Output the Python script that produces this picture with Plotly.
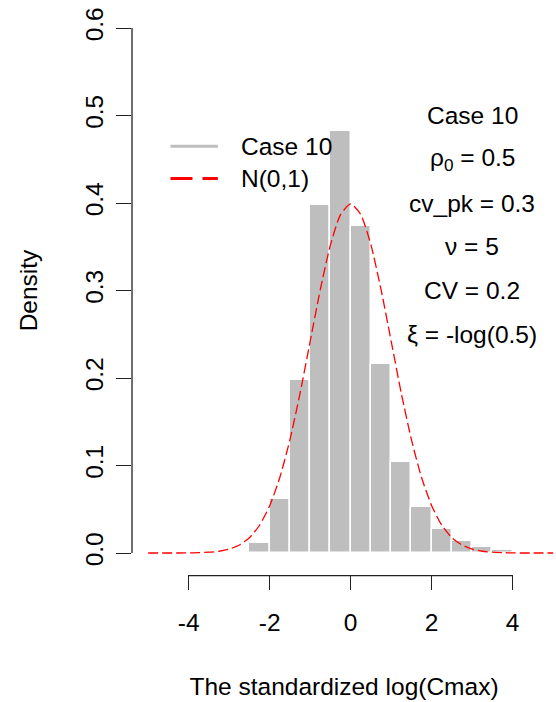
import numpy as np
import plotly.graph_objects as go

# ---- data ----
bin_edges = [-2.5, -2.0, -1.5, -1.0, -0.5, 0.0, 0.5, 1.0, 1.5, 2.0, 2.5, 3.0, 3.5, 4.0, 4.5, 5.0]
density = [0.011, 0.062, 0.198, 0.398, 0.482, 0.374, 0.216, 0.104, 0.053, 0.027, 0.014, 0.0072, 0.0034, 0.0015, 0.0015]

curve_x = [-5.0, -4.75, -4.5, -4.25, -4.0, -3.75, -3.5, -3.25, -3.0, -2.75, -2.5, -2.25, -2.0, -1.75,
           -1.5, -1.25, -1.0, -0.75, -0.5, -0.25, 0.0, 0.25, 0.5, 0.75, 1.0, 1.25, 1.5, 1.75, 2.0,
           2.25, 2.5, 2.75, 3.0, 3.25, 3.5, 3.75, 4.0, 4.25, 4.5, 4.75, 5.0]
curve_y = [0.0000, 0.0000, 0.0000, 0.0000, 0.0001, 0.0004, 0.0009, 0.0020, 0.0044, 0.0091, 0.0175,
           0.0317, 0.0540, 0.0863, 0.1295, 0.1826, 0.2420, 0.3011, 0.3521, 0.3867, 0.3989, 0.3867,
           0.3521, 0.3011, 0.2420, 0.1826, 0.1295, 0.0863, 0.0540, 0.0317, 0.0175, 0.0091, 0.0044,
           0.0020, 0.0009, 0.0004, 0.0001, 0.0000, 0.0000, 0.0000, 0.0000]

x_ticks = [-4, -2, 0, 2, 4]
y_ticks = [0.0, 0.1, 0.2, 0.3, 0.4, 0.5, 0.6]
x_title = "The standardized log(Cmax)"
y_title = "Density"
legend_labels = ["Case 10", "N(0,1)"]
info_lines = ["Case 10", "ρ<sub>0</sub> = 0.5", "cv_pk = 0.3", "ν = 5", "CV = 0.2", "ξ = -log(0.5)"]
info_y = [0.50, 0.45, 0.40, 0.35, 0.30, 0.25]
info_x = 3.0

# ---- figure ----
FONT = "Liberation Sans, Arial, sans-serif"
FS = 24.5
edges = np.array(bin_edges)
mids = (edges[:-1] + edges[1:]) / 2
widths = np.diff(edges)

fig = go.Figure()
fig.add_trace(go.Bar(x=mids, y=density, width=widths,
                     marker=dict(color="#BEBEBE", line=dict(color="white", width=1.5)),
                     showlegend=False, hoverinfo="x+y"))
fig.add_trace(go.Scatter(x=curve_x, y=curve_y, mode="lines",
                         line=dict(color="#FF0000", width=1.3, dash="10px,4px", shape="spline", smoothing=0.6),
                         showlegend=False))

shapes = []
# axis lines spanning tick range (R style)
shapes.append(dict(type="line", xref="paper", yref="y", x0=0, x1=0, y0=y_ticks[0], y1=y_ticks[-1],
                   line=dict(color="#222222", width=1.3)))
shapes.append(dict(type="line", xref="x", yref="paper", x0=x_ticks[0], x1=x_ticks[-1], y0=-0.003, y1=-0.003,
                   line=dict(color="#222222", width=1.3)))
# legend samples
shapes.append(dict(type="line", xref="x", yref="y", x0=-4.45, x1=-3.28, y0=0.465, y1=0.465,
                   line=dict(color="#BEBEBE", width=3)))
shapes.append(dict(type="line", xref="x", yref="y", x0=-4.45, x1=-3.28, y0=0.428, y1=0.428,
                   line=dict(color="#FF0000", width=3, dash="22px,10px")))

annotations = []
for lab, yy in zip(legend_labels, [0.465, 0.428]):
    annotations.append(dict(x=-2.77, y=yy, xref="x", yref="y", text=lab, showarrow=False,
                            xanchor="left", yanchor="middle", font=dict(family=FONT, size=FS, color="black")))
for lab, yy in zip(info_lines, info_y):
    annotations.append(dict(x=info_x, y=yy, xref="x", yref="y", text=lab, showarrow=False,
                            xanchor="center", yanchor="middle", font=dict(family=FONT, size=FS, color="black")))

fig.update_layout(
    width=556, height=702,
    margin=dict(l=132, r=0, t=7, b=128),
    paper_bgcolor="white", plot_bgcolor="white",
    bargap=0,
    font=dict(family=FONT, size=FS, color="black"),
    shapes=shapes, annotations=annotations,
    xaxis=dict(range=[-5.4, 5.07], tickvals=x_ticks, ticktext=[str(v) for v in x_ticks],
               ticks="outside", ticklen=15, tickwidth=1.3, tickcolor="#222222",
               ticklabelstandoff=12,
               showgrid=False, zeroline=False, showline=False,
               tickfont=dict(family=FONT, size=FS, color="black"),
               title=dict(text=x_title, font=dict(family=FONT, size=FS, color="black"), standoff=42)),
    yaxis=dict(range=[-0.024, 0.624], tickvals=y_ticks, tickformat=".1f",
               ticks="outside", ticklen=15, tickwidth=1.3, tickcolor="#222222", tickangle=-90,
               ticklabelstandoff=3,
               showgrid=False, zeroline=False, showline=False,
               tickfont=dict(family=FONT, size=FS, color="black"),
               title=dict(text=y_title, font=dict(family=FONT, size=FS, color="black"), standoff=36)),
)

fig.write_html("out.html")
